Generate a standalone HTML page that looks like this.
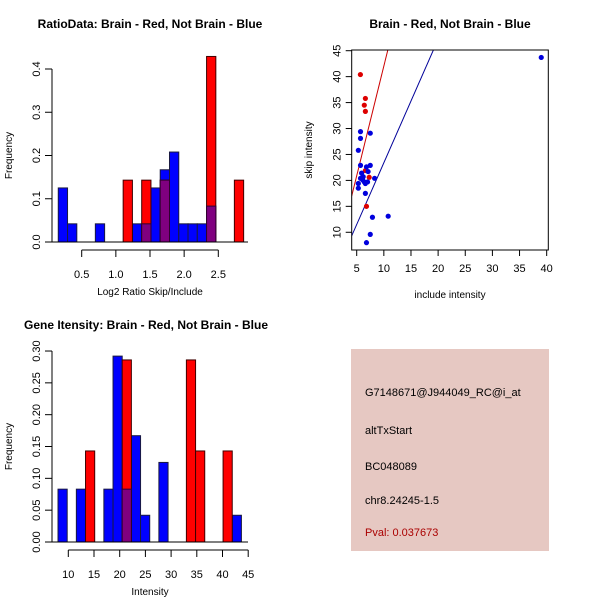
<!DOCTYPE html>
<html><head><meta charset="utf-8"><style>
body{margin:0;background:#fff;}
svg{display:block;font-family:"Liberation Sans",Arial,sans-serif;}
</style></head><body>
<svg id="c" width="600" height="600" viewBox="0 0 600 600">
<rect width="600" height="600" fill="#fff"/>
</svg>
<script>
// Panel 1: ratio histogram (bin index -> frequency)
const ratioBlueBins = [0,1,4,8,9,10,11,12,13,14,15,16];
const ratioBlueVals = [0.125,0.042,0.042,0.042,0.042,0.125,0.167,0.208,0.042,0.042,0.042,0.083];
const ratioRedBins = [7,9,11,16,19];
const ratioRedVals = [0.143,0.143,0.143,0.429,0.143];
const ratioXTicks = [0.5,1.0,1.5,2.0,2.5];
const ratioYTicks = [0.0,0.1,0.2,0.3,0.4];
// Panel 2: scatter
const redX = [5.68,6.6,6.4,6.6,6.6,7.3,6.8];
const redY = [40.4,35.8,34.5,33.3,21.9,20.6,15.0];
const blueX = [39.0,5.7,7.5,5.7,5.3,5.7,6.8,7.5,5.9,5.3,5.3,5.7,6.2,6.1,6.6,7.0,8.3,6.6,7.9,10.8,7.5,6.8,6.4,7.1];
const blueY = [43.7,29.4,29.1,28.1,25.8,22.9,22.6,22.9,21.4,19.4,18.5,20.4,20.7,20.1,19.4,19.7,20.4,17.5,12.9,13.1,9.6,8.0,19.7,21.7];
const redLine = [4.23,-0.26];
const blueLine = [2.38,-0.4];
const scXTicks = [5,10,15,20,25,30,35,40];
const scYTicks = [10,15,20,25,30,35,40,45];
// Panel 3: intensity histogram
const intBlueBins = [0,2,5,6,7,8,9,11,19];
const intBlueVals = [0.083,0.083,0.083,0.292,0.083,0.167,0.042,0.125,0.042];
const intRedBins = [3,7,14,15,18];
const intRedVals = [0.143,0.286,0.286,0.143,0.143];
const intXTicks = [10,15,20,25,30,35,40,45];
const intYTicks = ["0.00","0.05","0.10","0.15","0.20","0.25","0.30"];

const svg = document.getElementById('c');
const NS = 'http://www.w3.org/2000/svg';
function mk(tag, at, parent){const e=document.createElementNS(NS,tag);for(const k in at)e.setAttribute(k,at[k]);(parent||svg).appendChild(e);return e;}
function txt(x,y,s,at){const e=mk('text',Object.assign({x:x,y:y,'font-size':11,'text-anchor':'middle',fill:'#000'},at||{}));e.textContent=s;return e;}

// titles
let t=txt(150,28,'RatioData: Brain - Red, Not Brain - Blue',{'font-weight':'bold','font-size':12});

t=txt(450,28,'Brain - Red, Not Brain - Blue',{'font-weight':'bold','font-size':12});

t=txt(146,329,'Gene Itensity: Brain - Red, Not Brain - Blue',{'font-weight':'bold','font-size':12});


function hist(cfg){
  const g=mk('g',{});
  
  
  const X=v=>cfg.x0px+(v-cfg.x0v)*cfg.xs, Y=v=>cfg.y0px-v*cfg.ys;
  const bx=k=>X(cfg.start+k*cfg.bw);
  const bmap={};
  cfg.bb.forEach((k,i)=>bmap[k]=cfg.bv[i]);
  cfg.bb.forEach((k,i)=>{const r=mk('rect',{x:bx(k),y:Y(cfg.bv[i]),width:bx(k+1)-bx(k),height:cfg.bv[i]*cfg.ys,fill:'#0000ff',stroke:'#1a1a40','stroke-width':1},g);
    });
  cfg.rb.forEach((k,i)=>{const v=cfg.rv[i];const r=mk('rect',{x:bx(k),y:Y(v),width:bx(k+1)-bx(k),height:v*cfg.ys,fill:'#ff0000',stroke:'#400000','stroke-width':1},g);
    
    if(bmap[k]!==undefined){const m=Math.min(v,bmap[k]);const p=mk('rect',{x:bx(k),y:Y(m),width:bx(k+1)-bx(k),height:m*cfg.ys,fill:'#7f007f',stroke:'#300030','stroke-width':1},g);
      }});
  let l=mk('line',{x1:cfg.axL,x2:cfg.axR,y1:cfg.y0px,y2:cfg.y0px,stroke:'#000'},g);
  
  const yv=cfg.yt.map(Number);
  l=mk('line',{x1:52,x2:52,y1:Y(yv[0]),y2:Y(yv[yv.length-1]),stroke:'#000'},g);
  
  cfg.yt.forEach(s=>{const y=Y(Number(s));mk('line',{x1:45,x2:52,y1:y,y2:y,stroke:'#000'},g);
    const e=txt(40,y,s,{transform:`rotate(-90 40 ${y})`});});
  const ay=cfg.y0px+8;
  l=mk('line',{x1:X(cfg.xt[0]),x2:X(cfg.xt[cfg.xt.length-1]),y1:ay,y2:ay,stroke:'#000'},g);
  
  cfg.xt.forEach(v=>{const x=X(v);mk('line',{x1:x,x2:x,y1:ay,y2:ay+7,stroke:'#000'},g);
    const e=txt(x,ay+28,cfg.fmt(v));});
  let e=txt(150,cfg.y0px+53,cfg.xlab,{'font-size':10});
  const my=(Y(yv[0])+Y(yv[yv.length-1]))/2;
  e=txt(12,my,'Frequency',{'font-size':10,transform:`rotate(-90 12 ${my})`});
}
hist({name:'ratio-histogram',x0px:81.7,x0v:0.5,xs:68.3,y0px:242,ys:432.5,start:0.157,bw:0.1357,
  bb:ratioBlueBins,bv:ratioBlueVals,rb:ratioRedBins,rv:ratioRedVals,yt:ratioYTicks.map(v=>v.toFixed(1)),xt:ratioXTicks,
  fmt:v=>v.toFixed(1),axL:52,axR:248,xlab:'Log2 Ratio Skip/Include'});
hist({name:'intensity-histogram',x0px:68.3,x0v:10,xs:5.14,y0px:542,ys:636.6,start:8.0,bw:1.784,
  bb:intBlueBins,bv:intBlueVals,rb:intRedBins,rv:intRedVals,yt:intYTicks,xt:intXTicks,
  fmt:v=>String(v),axL:52,axR:248,xlab:'Intensity'});

// scatter
(function(){
  const g=mk('g',{});
  
  
  const L=351.7,R=548.3,T=50,B=250;
  const X=v=>356.7+(v-5)*5.428, Y=v=>50.7-(v-45)*5.188;
  const xmin=4.08,xmax=40.3;
  const clip=mk('clipPath',{id:'sc'},g);mk('rect',{x:L,y:T,width:R-L,height:B-T},clip);
  [[redLine,'#cc0000','red-fit-line'],[blueLine,'#000099','blue-fit-line']].forEach(([c,col,n])=>{
    const l=mk('line',{x1:X(xmin),y1:Y(c[0]*xmin+c[1]),x2:X(xmax),y2:Y(c[0]*xmax+c[1]),stroke:col,'clip-path':'url(#sc)'},g);
    });
  redX.forEach((v,i)=>{const c=mk('circle',{cx:X(v),cy:Y(redY[i]),r:2.6,fill:'#dd0000'},g);
    });
  blueX.forEach((v,i)=>{const c=mk('circle',{cx:X(v),cy:Y(blueY[i]),r:2.6,fill:'#0000dd'},g);
    });
  const b=mk('rect',{x:L,y:T,width:R-L,height:B-T,fill:'none',stroke:'#000'},g);
  
  scXTicks.forEach(v=>{const x=X(v);mk('line',{x1:x,x2:x,y1:B,y2:B+6,stroke:'#000'},g);
    const e=txt(x,B+22,String(v));});
  scYTicks.forEach(v=>{const y=Y(v);mk('line',{x1:L-6,x2:L,y1:y,y2:y,stroke:'#000'},g);
    const e=txt(L-11,y,String(v),{transform:`rotate(-90 ${L-11} ${y})`});});
  let e=txt(450,298,'include intensity',{'font-size':10});
  e=txt(312,150,'skip intensity',{'font-size':10,transform:'rotate(-90 312 150)'});
})();

// info panel
(function(){
  const g=mk('g',{});
  
  
  const r=mk('rect',{x:351,y:349,width:198,height:202,fill:'#e6c8c2'},g);
  
  const lines=[['G7148671@J944049_RC@i_at',396,'#000','probe-id'],['altTxStart',434,'#000','event-type'],['BC048089',470,'#000','accession'],['chr8.24245-1.5',504,'#000','location'],['Pval: 0.037673',536,'#aa0000','p-value']];
  lines.forEach(([s,y,c,n])=>{const e=txt(365,y,s,{'text-anchor':'start',fill:c,'font-size':11});
    g.appendChild(e);});
})();
</script>
</body></html>
